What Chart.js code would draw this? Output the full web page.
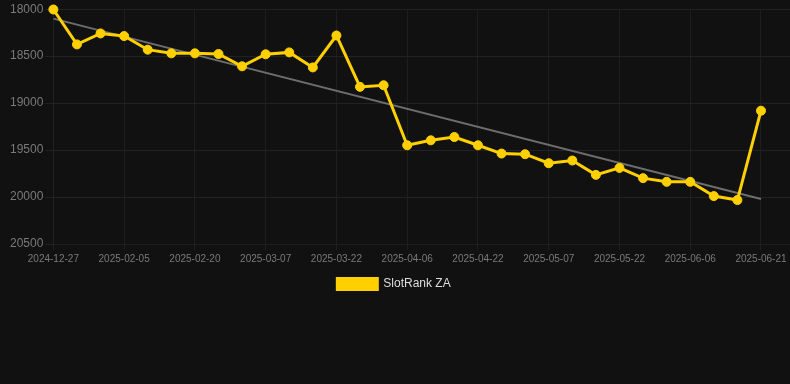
<!DOCTYPE html>
<html>
<head>
<meta charset="utf-8">
<script src="https://cdn.jsdelivr.net/npm/chart.js@4.4.0/dist/chart.umd.min.js"></script>
<style>
  html, body { margin: 0; padding: 0; background: #111111; }
  #wrap { width: 790px; height: 300px; position: relative; }
</style>
</head>
<body>
<div id="wrap"><canvas id="c"></canvas></div>
<script>
const dateLabels = [
  "2024-12-27", "2025-01-26", "2025-01-31", "2025-02-05", "2025-02-10", "2025-02-15",
  "2025-02-20", "2025-02-25", "2025-03-02", "2025-03-07", "2025-03-12", "2025-03-17",
  "2025-03-22", "2025-03-27", "2025-04-01", "2025-04-06", "2025-04-11", "2025-04-16",
  "2025-04-22", "2025-04-27", "2025-05-02", "2025-05-07", "2025-05-12", "2025-05-17",
  "2025-05-22", "2025-05-27", "2025-06-01", "2025-06-06", "2025-06-11", "2025-06-16",
  "2025-06-21"
];
const rankValues = [
  18003, 18375, 18258, 18286, 18431, 18470, 18470, 18477, 18608, 18480, 18460,
  18620, 18280, 18827, 18810, 19449, 19396, 19361, 19449, 19537, 19544, 19640,
  19611, 19764, 19690, 19799, 19838, 19838, 19990, 20032, 19081
];
const yTicks = [18000, 18500, 19000, 19500, 20000, 20500];
const xTickIdx = [0, 3, 6, 9, 12, 15, 18, 21, 24, 27, 30];
const seriesName = "SlotRank ZA";

// least squares trend
const n = rankValues.length;
let sx = 0, sy = 0, sxy = 0, sxx = 0;
rankValues.forEach((v, i) => { sx += i; sy += v; sxy += i * v; sxx += i * i; });
const slope = (n * sxy - sx * sy) / (n * sxx - sx * sx);
const intercept = (sy - slope * sx) / n;
const trendPts = [{x: 0, y: intercept}, {x: n - 1, y: intercept + slope * (n - 1)}];

const mainPts = rankValues.map((v, i) => ({x: i, y: v}));

const legendShift = {
  id: 'legendShift',
  afterLayout(chart) {
    if (chart.legend) { chart.legend.left -= 5; chart.legend.right -= 5; }
  }
};

new Chart(document.getElementById('c'), {
  type: 'line',
  plugins: [legendShift],
  data: {
    datasets: [
      {
        label: seriesName,
        data: mainPts,
        borderColor: 'rgb(255,208,0)',
        backgroundColor: 'rgb(255,208,0)',
        borderWidth: 3,
        pointRadius: 4.5,
        pointBorderWidth: 1,
        pointHoverRadius: 5,
        tension: 0,
        clip: false,
        order: 1
      },
      {
        label: 'trend',
        data: trendPts,
        borderColor: 'rgba(120,120,120,0.9)',
        backgroundColor: 'rgba(120,120,120,0.9)',
        borderWidth: 2,
        pointRadius: 0,
        tension: 0,
        order: 2
      }
    ]
  },
  options: {
    responsive: true,
    maintainAspectRatio: false,
    animation: false,
    layout: { autoPadding: false, padding: { left: 8, right: 0, top: 0, bottom: 0 } },
    scales: {
      x: {
        type: 'linear',
        min: 0,
        max: 31.23,
        afterBuildTicks: (axis) => { axis.ticks = xTickIdx.map(v => ({value: v})); },
        grid: { color: '#1e1e1e', drawTicks: true, tickLength: 6 },
        border: { color: '#1e1e1e' },
        ticks: {
          autoSkip: false,
          maxRotation: 0,
          color: '#7a7a7a',
          font: { family: 'Arial, "Liberation Sans", sans-serif', size: 10 },
          callback: (v) => dateLabels[v]
        }
      },
      y: {
        reverse: true,
        min: yTicks[0],
        max: yTicks[yTicks.length - 1],
        afterBuildTicks: (axis) => { axis.ticks = yTicks.map(v => ({value: v})); },
        grid: { color: '#222222', tickLength: 8 },
        border: { color: '#222222' },
        ticks: {
          color: '#7a7a7a',
          padding: 2,
          font: { family: 'Arial, "Liberation Sans", sans-serif', size: 12 },
          callback: (v) => String(v)
        }
      }
    },
    plugins: {
      legend: {
        position: 'bottom',
        labels: {
          color: '#dddddd',
          boxWidth: 40,
          boxHeight: 11,
          font: { family: 'Arial, "Liberation Sans", sans-serif', size: 12 },
          filter: (item) => item.text === seriesName
        }
      },
      tooltip: { enabled: false }
    }
  }
});
</script>
</body>
</html>
